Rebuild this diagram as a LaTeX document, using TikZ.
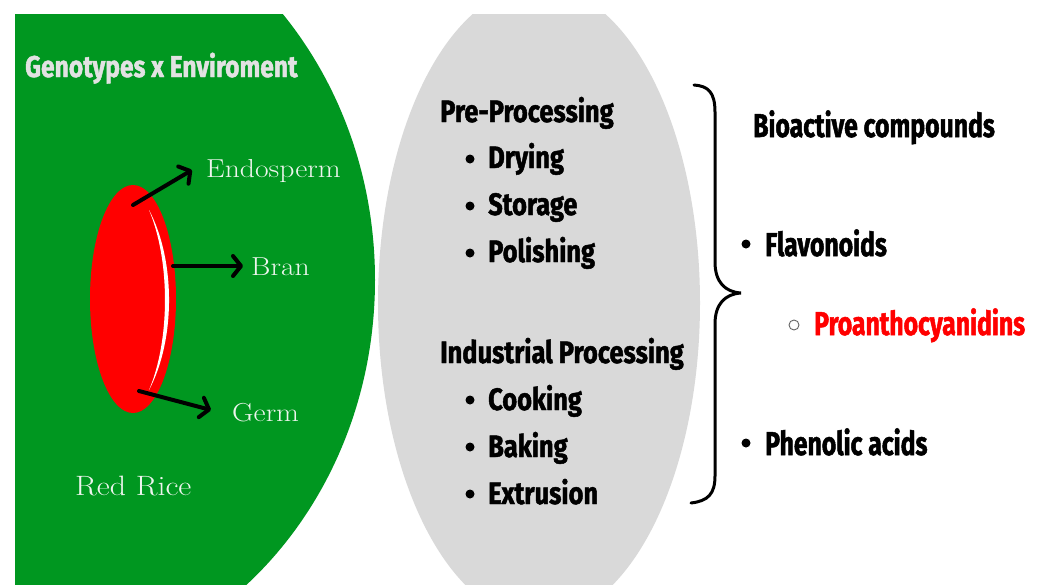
\documentclass[tikz,border=0pt]{standalone}
\usepackage{fontspec}
\usetikzlibrary{arrows.meta}
\newfontfamily\heavyfont{Fira Sans}[FakeStretch=0.75,FakeBold=1.5]
\newfontfamily\heavywide{Fira Sans}[FakeStretch=0.82,FakeBold=1.5]
\newfontfamily\lightserif{Latin Modern Roman}[FakeStretch=1.14]
\definecolor{leafgreen}{RGB}{0,151,32}
\definecolor{stonegray}{RGB}{217,217,217}
\definecolor{paletext}{RGB}{238,245,238}
\definecolor{titlegray}{RGB}{226,226,226}
\definecolor{ricered}{RGB}{255,0,0}
\begin{document}
\begin{tikzpicture}[x=1pt,y=-1pt,
  heavy/.style={inner sep=0pt, anchor=base west, text=black,
    font=\heavywide\bfseries\fontsize{31}{36}\selectfont},
  heavybig/.style={heavy, font=\heavyfont\bfseries\fontsize{33}{38}\selectfont},
  serifl/.style={inner sep=0pt, anchor=base west, text=paletext,
    font=\lightserif\fontsize{26}{30}\selectfont},
  bulletdot/.style={fill=black, draw=none},
  partarrow/.style={line width=4pt, line cap=round, line join=round,
    -{Straight Barb[length=8pt,width=20pt,line cap=round,line join=round]}},
]
\useasboundingbox (0,0) rectangle (1042,584);
\fill[white] (0,0) rectangle (1042,584);

% green field, clipped to the page band
\begin{scope}
  \clip (15,14) rectangle (1042,584);
  \fill[leafgreen] (15,280) ellipse [x radius=360, y radius=398];
\end{scope}

% grey processing ellipse
\begin{scope}
  \clip (0,14) rectangle (1042,584);
  \fill[stonegray] (539,303) ellipse [x radius=161, y radius=317];
\end{scope}

% title on the green field
\node[heavy, text=titlegray, font=\heavywide\bfseries\fontsize{30}{35}\selectfont] (geno) at (25,77) {Genotypes x Enviroment};

% rice grain with its highlight
\fill[ricered] (133,299) ellipse [x radius=43, y radius=114];
\fill[white] (149,210) .. controls (175.7,260) and (175.7,340) .. (149,390)
  .. controls (170.3,340) and (170.3,260) .. cycle;

% part labels
\node[serifl] (endo) at (206,177) {Endosperm};
\node[serifl] (bran) at (251,275) {Bran};
\node[serifl] (germ) at (232,421) {Germ};
\node[serifl, font=\lightserif\fontsize{28}{32}\selectfont] (redrice) at (75,495) {Red Rice};

% arrows from the grain to its parts
\coordinate (endoA) at (133,205);
\coordinate (endoB) at (192,170);
\coordinate (branA) at (173,266);
\coordinate (branB) at (243,266);
\coordinate (germA) at (139,391);
\coordinate (germB) at (211,410);
\draw[partarrow] (endoA) -- (endoB);
\draw[partarrow] (branA) -- (branB);
\draw[partarrow] (germA) -- (germB);

% processing lists
\node[heavy] (pre) at (440,122) {Pre-Processing};
\fill[bulletdot] (470,159) circle (4.5);
\node[heavy] (dry) at (488,168) {Drying};
\fill[bulletdot] (470,206) circle (4.5);
\node[heavy] (sto) at (488,215) {Storage};
\fill[bulletdot] (470,253) circle (4.5);
\node[heavy] (pol) at (488,262) {Polishing};

\node[heavy] (ind) at (440,363) {Industrial Processing};
\fill[bulletdot] (470,400) circle (4.5);
\node[heavy] (coo) at (488,410) {Cooking};
\fill[bulletdot] (470,447) circle (4.5);
\node[heavy] (bak) at (488,457) {Baking};
\fill[bulletdot] (470,494) circle (4.5);
\node[heavy] (ext) at (488,504) {Extrusion};

% curly brace
\draw[line width=3pt, line cap=round, line join=miter]
  (694,85) .. controls (708,86) and (715,92) .. (715,112)
  -- (715,262) .. controls (715,282) and (725,292) .. (741,293)
  .. controls (725,294) and (715,304) .. (715,324)
  -- (715,476) .. controls (715,494) and (708,501) .. (691,503);

% bioactive compounds
\node[heavybig] (bio) at (753,137) {Bioactive compounds};
\fill[bulletdot] (746,244) circle (4.5);
\node[heavybig] (fla) at (765,256) {Flavonoids};
\draw[gray!80!black, line width=0.9pt] (794,325) circle (5);
\node[heavybig, text=ricered] (pro) at (814,335) {Proanthocyanidins};
\fill[bulletdot] (746,443) circle (4.5);
\node[heavybig] (phe) at (765,455) {Phenolic acids};
\end{tikzpicture}
\end{document}
